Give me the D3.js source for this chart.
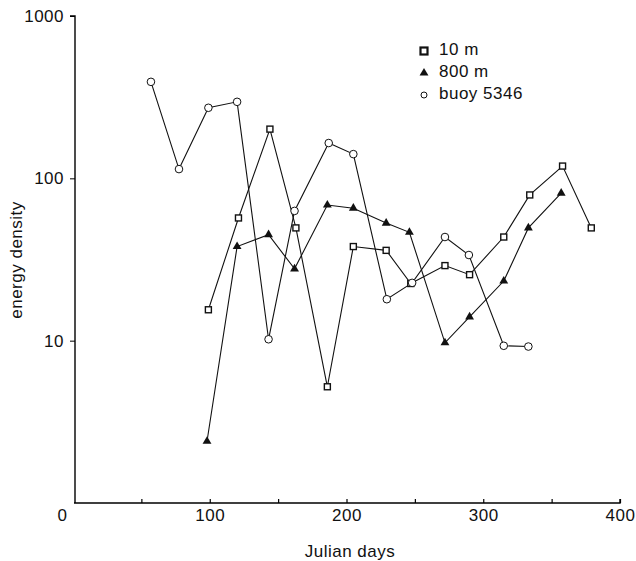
<!DOCTYPE html>
<html>
<head>
<meta charset="utf-8">
<script src="https://cdn.jsdelivr.net/npm/d3@7"></script>
<style>
  body { margin: 0; background: #fff; }
  text { font-family: "Liberation Sans", Arial, sans-serif; fill: #111; letter-spacing: 0.5px; }
</style>
</head>
<body>
<div class="graph"></div>
<script>
  // values (Julian day, energy density)
  const days10m = [99, 121, 144, 163, 186, 205, 229, 247, 272, 290, 315, 334, 358, 379];
  const energy10m = [15.5, 57, 201, 49.5, 5.2, 38, 36, 22.5, 29, 25.5, 43.5, 79, 119, 49.5];

  const days800m = [98, 120, 143, 162, 186, 205, 229, 246, 272, 290, 315, 333, 357];
  const energy800m = [2.4, 38, 45, 27.7, 68.5, 65.5, 53, 46.5, 9.7, 14, 23.3, 49.5, 81];

  const daysBuoy = [57, 77.5, 99, 120, 143, 162, 187, 205, 229.5, 248, 272, 289.5, 315, 333];
  const energyBuoy = [393, 114, 272, 296, 10.2, 63, 165, 141, 18, 22.7, 43.5, 33.7, 9.3, 9.2];

  const xTickLabels = [0, 100, 200, 300, 400];
  const yTickLabels = [10, 100, 1000];

  const width = 636;
  const height = 561;
  const fontSize = 17;

  const xScale = d3.scaleLinear()
    .domain([0, 400])
    .range([73, 620]);

  const yScale = d3.scaleLog()
    .domain([1, 1000])
    .range([503, 16]);

  const svg = d3.select('.graph')
    .append('svg')
    .attr('width', width)
    .attr('height', height);

  // x axis: small inward ticks every 50, labels every 100
  svg.append('g')
    .attr('class', 'x-axis')
    .attr('transform', `translate(0, ${yScale(1)})`)
    .call(d3.axisBottom(xScale).tickValues(d3.range(50, 401, 50)).tickSize(-4).tickFormat(''))
    .call(g => g.select('.domain').attr('d', `M74,0H${xScale(400)}V-4`).attr('stroke-width', 1.4))
    .call(g => g.selectAll('.tick line').attr('stroke-width', 1.2));

  svg.append('g')
    .attr('class', 'x-labels')
    .attr('transform', `translate(0, ${yScale(1)})`)
    .call(d3.axisBottom(xScale).tickValues(xTickLabels).tickSize(0).tickPadding(6))
    .call(g => g.select('.domain').remove())
    .call(g => g.selectAll('text')
      .attr('font-size', fontSize)
      .attr('dx', d => d === 0 ? -11 : 0));

  // y axis
  svg.append('g')
    .attr('class', 'y-axis')
    .attr('transform', 'translate(75, 0)')
    .call(d3.axisLeft(yScale).tickValues(yTickLabels).tickSize(5).tickPadding(6)
      .tickFormat(d3.format('d')))
    .call(g => g.select('.domain').attr('d', `M-5,${yScale(1000)}H0V${yScale(1)}`).attr('stroke-width', 1.4))
    .call(g => g.selectAll('text').attr('font-size', fontSize));

  svg.append('text')
    .attr('x', 350)
    .attr('y', 557)
    .attr('text-anchor', 'middle')
    .attr('font-size', fontSize)
    .text('Julian days');

  svg.append('text')
    .attr('transform', 'translate(22, 260) rotate(-90)')
    .attr('text-anchor', 'middle')
    .attr('font-size', fontSize)
    .text('energy density');

  const line = d3.line()
    .x(d => xScale(d[0]))
    .y(d => yScale(d[1]));

  const series = [
    { name: '10 m', pts: d3.zip(days10m, energy10m), mark: 'square' },
    { name: '800 m', pts: d3.zip(days800m, energy800m), mark: 'triangle' },
    { name: 'buoy 5346', pts: d3.zip(daysBuoy, energyBuoy), mark: 'circle' }
  ];

  function drawMark(g, mark, legend) {
    if (mark === 'square') {
      const s = legend ? 7 : 6;
      g.append('rect')
        .attr('x', -s / 2).attr('y', -s / 2)
        .attr('width', s).attr('height', s)
        .attr('fill', '#fff').attr('stroke', '#111').attr('stroke-width', legend ? 2.2 : 1.4);
    } else if (mark === 'triangle') {
      g.append('path')
        .attr('d', d3.symbol(d3.symbolTriangle, 34)())
        .attr('fill', '#111');
    } else {
      g.append('circle')
        .attr('r', legend ? 3 : 3.8)
        .attr('fill', '#fff').attr('stroke', '#111').attr('stroke-width', 1);
    }
  }

  series.forEach(s => {
    svg.append('path')
      .datum(s.pts)
      .attr('fill', 'none')
      .attr('stroke', '#111')
      .attr('stroke-width', 1.1)
      .attr('d', line);
  });

  series.forEach(s => {
    svg.selectAll(null)
      .data(s.pts)
      .enter()
      .append('g')
      .attr('transform', d => `translate(${xScale(d[0])}, ${yScale(d[1])})`)
      .each(function () { drawMark(d3.select(this), s.mark, false); });
  });

  // legend
  const legend = svg.append('g')
    .attr('transform', 'translate(424, 51)');

  series.forEach((s, i) => {
    const row = legend.append('g')
      .attr('transform', `translate(0, ${i * 22})`);
    drawMark(row, s.mark, true);
    row.append('text')
      .attr('x', 15)
      .attr('y', 4)
      .attr('font-size', fontSize)
      .text(s.name);
  });
</script>
</body>
</html>
